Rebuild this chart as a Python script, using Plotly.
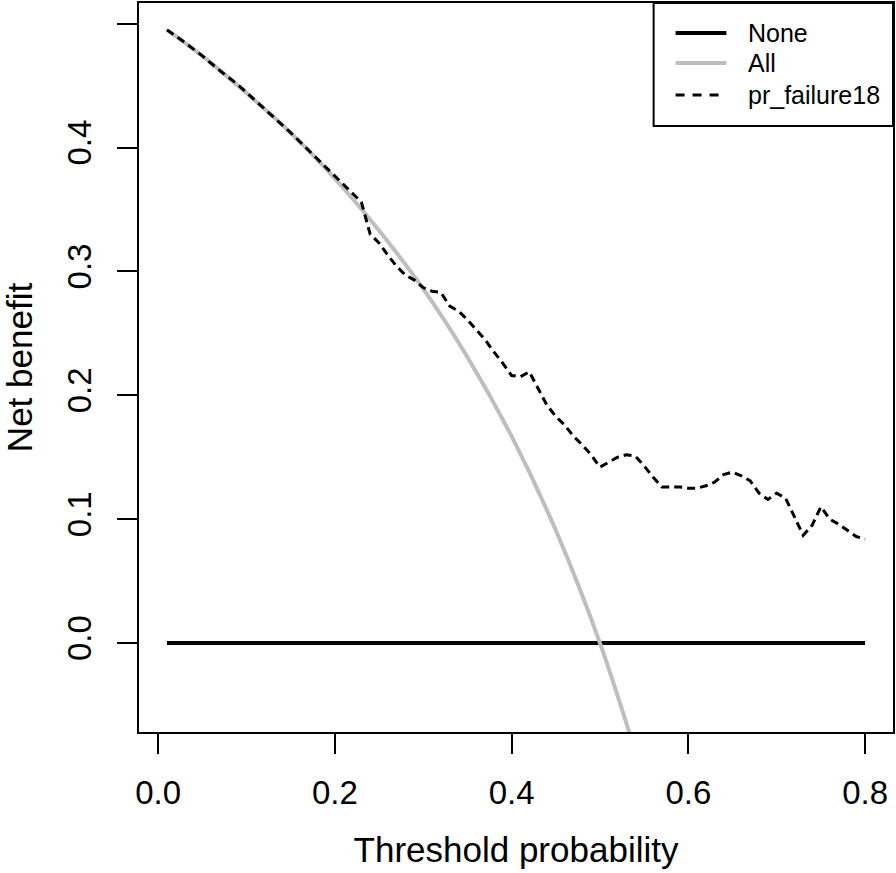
import plotly.graph_objects as go

# Threshold probabilities and net benefit values
none_x = [0.01, 0.80]
none_y = [0.0, 0.0]

all_x = [0.01, 0.05, 0.10, 0.15, 0.20, 0.25, 0.30, 0.35, 0.40, 0.45, 0.50, 0.55]
all_y = [0.495, 0.474, 0.444, 0.412, 0.375, 0.333, 0.286, 0.231, 0.167, 0.091, 0.000, -0.111]

model_x = [0.01, 0.03, 0.05, 0.07, 0.09, 0.11, 0.13, 0.15, 0.17, 0.19, 0.21, 0.23,
           0.24, 0.25, 0.26, 0.27, 0.28, 0.29, 0.30, 0.31, 0.32, 0.33, 0.34, 0.35,
           0.36, 0.37, 0.38, 0.39, 0.40, 0.41, 0.42, 0.43, 0.44, 0.45, 0.46, 0.47,
           0.48, 0.49, 0.50, 0.51, 0.52, 0.53, 0.54, 0.55, 0.56, 0.57, 0.58, 0.59,
           0.60, 0.61, 0.62, 0.63, 0.64, 0.65, 0.66, 0.67, 0.68, 0.69, 0.70, 0.71,
           0.72, 0.73, 0.74, 0.75, 0.76, 0.77, 0.78, 0.79, 0.80]
model_y = [0.495, 0.485, 0.474, 0.462, 0.451, 0.438, 0.425, 0.412, 0.398, 0.384, 0.370, 0.356,
           0.330, 0.323, 0.313, 0.304, 0.297, 0.293, 0.287, 0.284, 0.283, 0.272, 0.268, 0.261,
           0.253, 0.245, 0.235, 0.226, 0.216, 0.215, 0.219, 0.206, 0.192, 0.183, 0.176, 0.167,
           0.160, 0.152, 0.142, 0.146, 0.150, 0.152, 0.151, 0.143, 0.134, 0.126, 0.126, 0.126,
           0.125, 0.125, 0.127, 0.130, 0.136, 0.138, 0.135, 0.131, 0.121, 0.116, 0.121, 0.117,
           0.102, 0.087, 0.095, 0.110, 0.100, 0.096, 0.091, 0.086, 0.084]

x_ticks = [0.0, 0.2, 0.4, 0.6, 0.8]
y_ticks = [0.0, 0.1, 0.2, 0.3, 0.4, 0.5]

legend_labels = ["None", "All", "pr_failure18"]

FONT = "Liberation Sans, Arial, Helvetica, sans-serif"
W, H = 896, 873
ML, MR, MT, MB = 139, 1, 3, 141

styles = [dict(color="black", width=4),
          dict(color="#BEBEBE", width=4),
          dict(color="black", width=3, dash="8px,5px")]

fig = go.Figure()
fig.add_trace(go.Scatter(x=none_x, y=none_y, mode="lines", name=legend_labels[0],
                         line=styles[0]))
fig.add_trace(go.Scatter(x=all_x, y=all_y, mode="lines", name=legend_labels[1],
                         line=dict(**styles[1], shape="spline")))
fig.add_trace(go.Scatter(x=model_x, y=model_y, mode="lines", name=legend_labels[2],
                         line=styles[2]))

# R-style boxed legend in the top-right corner, placed in pixel terms
def px_x(px):
    return (px - ML) / (W - ML - MR)

def px_y(py):
    return (H - MB - py) / (H - MB - MT)

shapes = [dict(type="rect", xref="paper", yref="paper",
               x0=px_x(655), x1=px_x(W - MR), y0=px_y(126), y1=px_y(MT),
               line=dict(color="black", width=2), fillcolor="white", layer="above")]
annotations = []
rows_y = [33, 63, 95]
for i, lab in enumerate(legend_labels):
    st = dict(styles[i])
    x_end = 728 if i < 2 else 721
    if i == 2:
        st["dash"] = "9px,8px"
    shapes.append(dict(type="line", xref="paper", yref="paper",
                       x0=px_x(677), x1=px_x(x_end), y0=px_y(rows_y[i]), y1=px_y(rows_y[i]),
                       line=st, layer="above"))
    annotations.append(dict(xref="paper", yref="paper", x=px_x(748), y=px_y(rows_y[i]),
                            xanchor="left", yanchor="middle", showarrow=False,
                            text=lab, font=dict(size=25, family=FONT, color="black")))

fig.update_layout(
    width=W, height=H,
    margin=dict(l=ML, r=MR, t=MT, b=MB),
    paper_bgcolor="white", plot_bgcolor="white",
    font=dict(family=FONT, color="black"),
    showlegend=False,
    shapes=shapes, annotations=annotations,
    xaxis=dict(range=[-0.0216, 0.8316], tickvals=x_ticks,
               ticktext=[f"{v:.1f}" for v in x_ticks],
               showgrid=False, zeroline=False,
               showline=True, linecolor="black", linewidth=2, mirror=True,
               ticks="outside", ticklen=20, tickwidth=2, tickcolor="black",
               ticklabelstandoff=10,
               tickfont=dict(size=33, family=FONT),
               title=dict(text="Threshold probability", font=dict(size=35, family=FONT),
                          standoff=28)),
    yaxis=dict(range=[-0.0718, 0.5167], tickvals=y_ticks,
               ticktext=[f"{v:.1f}" for v in y_ticks],
               showgrid=False, zeroline=False,
               showline=True, linecolor="black", linewidth=2, mirror=True,
               ticks="outside", ticklen=20, tickwidth=2, tickcolor="black",
               tickangle=-90, ticklabelstandoff=13,
               tickfont=dict(size=33, family=FONT),
               title=dict(text="Net benefit", font=dict(size=35, family=FONT),
                          standoff=23)),
)

fig.write_html("out.html",
               config={"displayModeBar": False},
               post_script="document.body.style.margin='0';"
                           "document.body.style.overflow='hidden';"
                           "document.documentElement.style.overflow='hidden';")
